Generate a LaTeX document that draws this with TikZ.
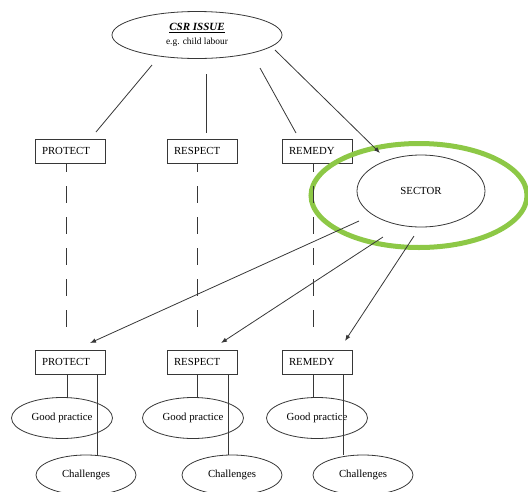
\documentclass[tikz,border=0pt]{standalone}
\usepackage{fontspec}
\setmainfont{Liberation Serif}
\usetikzlibrary{shapes.geometric,arrows.meta}
\definecolor{lnc}{RGB}{55,55,55}
\definecolor{hlgreen}{RGB}{141,200,70}
\tikzset{
  conn/.style={draw=lnc, line width=0.8pt},
  arr/.style={conn, -{Latex[length=6pt,width=4.5pt]}},
  dsh/.style={conn, dash pattern=on 17pt off 14pt, dash phase=8pt},
  rbox/.style={draw=lnc, line width=0.8pt, rectangle, minimum height=24pt, text width=56pt, align=left, inner xsep=7pt, inner ysep=0pt, font=\fontsize{10.8}{12}\selectfont},
  oval/.style={draw=lnc, line width=0.8pt, ellipse, inner sep=0pt, font=\fontsize{10.8}{12}\selectfont},
}
\begin{document}
\begin{tikzpicture}[x=1pt,y=-1pt]
\useasboundingbox (0,0) rectangle (528,491);
% top ellipse
\node[oval, minimum width=170pt, minimum height=47pt, align=center] (csr) at (197,35)
  {{\fontsize{11}{12}\selectfont\underline{\textbf{\textit{CSR ISSUE}}}}\\[2pt]{\fontsize{9.4}{11}\selectfont e.g. child labour}};
% top boxes
\node[rbox] (p1) at (70,151) {PROTECT};
\node[rbox] (r1) at (202,151) {RESPECT};
\node[rbox] (m1) at (317,151) {REMEDY};
% sector
\node[oval, minimum width=128pt, minimum height=72pt] (sec) at (421,191) {SECTOR};
\draw[hlgreen, line width=5pt] (419,195.5) ellipse [x radius=108, y radius=52];
% bottom boxes
\node[rbox] (p2) at (70,362) {PROTECT};
\node[rbox] (r2) at (202,362) {RESPECT};
\node[rbox] (m2) at (317,362) {REMEDY};
% good practice
\node[oval, minimum width=101pt, minimum height=41pt] (gp) at (62,418) {Good practice};
\node[oval, minimum width=101pt, minimum height=41pt] (gr) at (193,418) {Good practice};
\node[oval, minimum width=101pt, minimum height=41pt] (gm) at (317,418) {Good practice};
% challenges
\node[oval, minimum width=100pt, minimum height=40pt] (cp) at (86,475) {Challenges};
\node[oval, minimum width=100pt, minimum height=40pt] (cr) at (232,475) {Challenges};
\node[oval, minimum width=100pt, minimum height=40pt] (cm) at (363,475) {Challenges};
% coordinates for free ends
\coordinate (a1) at (152,65);  \coordinate (a2) at (96,132);
\coordinate (b1) at (206,74);  \coordinate (b2) at (206,133);
\coordinate (c1) at (260,68);  \coordinate (c2) at (296,133);
\coordinate (d1) at (275,50);  \coordinate (d2) at (380,153);
\coordinate (s1) at (359,221); \coordinate (t1) at (90,343);
\coordinate (s2) at (383,237); \coordinate (t2) at (221,343);
\coordinate (s3) at (414,236); \coordinate (t3) at (345,341);
\coordinate (pe) at (66,335);  \coordinate (re) at (197,335); \coordinate (me) at (313,335);
% connectors from CSR
\draw[conn] (a1) -- (a2);
\draw[conn] (b1) -- (b2);
\draw[conn] (c1) -- (c2);
\draw[arr] (d1) -- (d2);
% dashed
\draw[dsh] (p1.south -| pe) -- (pe);
\draw[dsh] (r1.south -| re) -- (re);
\draw[dsh] (m1.south -| me) -- (me);
% sector arrows
\draw[arr] (s1) -- (t1);
\draw[arr] (s2) -- (t2);
\draw[arr] (s3) -- (t3);
% bottom connectors
\draw[conn] (p2.south -| 67,0) -- (gp.north -| 67,0);
\draw[conn] (p2.south -| 97,0) -- (cp.north -| 97,0);
\draw[conn] (r2.south -| 197,0) -- (gr.north -| 197,0);
\draw[conn] (r2.south -| 228,0) -- (cr.north -| 228,0);
\draw[conn] (m2.south -| 313,0) -- (gm.north -| 313,0);
\draw[conn] (m2.south -| 343,0) -- (cm.north -| 343,0);
\end{tikzpicture}
\end{document}
